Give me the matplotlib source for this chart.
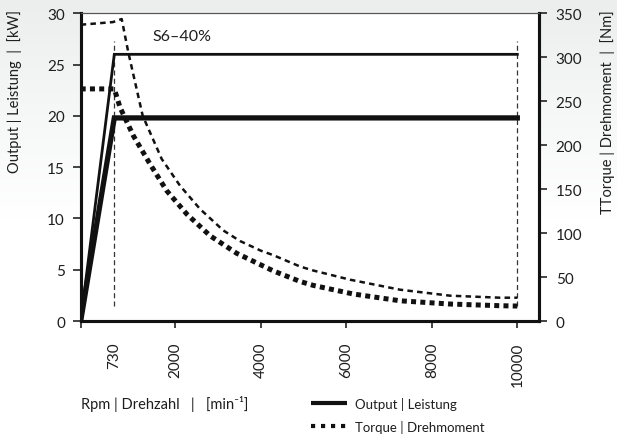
import numpy as np
import matplotlib
matplotlib.use('Agg')
import matplotlib.pyplot as plt
from matplotlib.lines import Line2D
from matplotlib.colors import LinearSegmentedColormap

plt.rcParams['font.family'] = ['Lato', 'DejaVu Sans']

# ---------------- data ----------------
rpm_output = [0, 730, 10000]
power_s6 = [0, 26.0, 26.0]
power_s1 = [0, 19.8, 19.8]

rpm_torque_s6 = [0, 700, 884, 1021, 1321, 1717, 2110, 2578, 3123, 3513, 4000, 4285,
                 4917, 5221, 6086, 7256, 8425, 9595, 10000]
torque_s6 = [337, 340, 343.5, 305.7, 233.5, 184.3, 153.9, 127.4, 103, 91, 80, 75,
             62, 57.5, 47, 35.6, 28.8, 26.5, 26.5]

rpm_torque_s1 = [0, 730, 849, 1126, 1473, 1821, 2267, 2812, 3436, 4292, 4917, 5228,
                 6163, 7256, 8425, 9595, 10000]
torque_s1 = [264, 264, 243, 210.8, 178.6, 148.2, 121.7, 97, 77, 57, 45, 40.5,
             30.7, 23, 19.3, 17.4, 17]

marker_rpm = [730, 10000]
marker_range = [1.5, 27.3]

x_ticks = [0, 2000, 4000, 6000, 8000, 10000]
x_ticklabels = ['', '2000', '4000', '6000', '8000', '10000']
x_extra_tick = [730]
x_extra_label = ['730']
y_left_ticks = [0, 5, 10, 15, 20, 25, 30]
y_right_ticks = [0, 50, 100, 150, 200, 250, 300, 350]

label_s6 = 'S6–40%'
legend_labels = ['Output | Leistung', 'Torque | Drehmoment']
xlabel = 'Rpm | Drehzahl   |   [min⁻¹]'
ylabel_left = 'Output | Leistung  |  [kW]'
ylabel_right = 'TTorque | Drehmoment  |  [Nm]'

# ---------------- figure ----------------
W, H = 617, 439
fig = plt.figure(figsize=(W / 100, H / 100), dpi=100)

# background gradient
bg = fig.add_axes([0, 0, 1, 1], zorder=-5)
cmap = LinearSegmentedColormap.from_list('bg', ['#ffffff', '#ffffff', '#eceeee'])
grad = np.linspace(1, 0, 256).reshape(-1, 1)
bg.imshow(grad, aspect='auto', extent=[0, 1, 0, 1], cmap=cmap)
bg.axis('off')

left, right, top, bottom = 80.7, 538.7, 14.3, 322.0
ax = fig.add_axes([left / W, 1 - bottom / H, (right - left) / W, (bottom - top) / H])
ax.set_facecolor('white')

# piecewise-linear x scale (matches the drawing's rpm axis)
kn_rpm = [0, 730, 2000, 12000]
kn_pos = [0, 33.6, 94.6, 94.6 + 10000 * 0.04275]
fwd = lambda x: np.interp(x, kn_rpm, kn_pos)
inv = lambda p: np.interp(p, kn_pos, kn_rpm)
ax.set_xscale('function', functions=(fwd, inv))
ax.set_xlim(0, 10500)
ax.set_ylim(0, 30)

ink = '#111111'
txt = '#1e1e1e'

ax.plot(rpm_output, power_s6, color=ink, lw=2.0, solid_joinstyle='miter', zorder=3)
ax.plot(rpm_output, power_s1, color=ink, lw=3.8, solid_joinstyle='miter', zorder=3)
for r in marker_rpm:
    ax.plot([r, r], marker_range, color='#333333', lw=0.9, linestyle=(0, (4, 2.6)), zorder=2)
ax.text(1530, 27.8, label_s6, fontsize=11.5, color=txt, ha='left', va='center')

ax2 = ax.twinx()
ax2.set_ylim(0, 350)
ax2.plot(rpm_torque_s6, torque_s6, color=ink, lw=1.8, linestyle=(0, (2.2, 1.7)), zorder=3)
ax2.plot(rpm_torque_s1, torque_s1, color=ink, lw=3.6, linestyle=(0, (1, 0.85)), zorder=3)

# ticks / spines
ax.set_xticks(x_ticks, x_ticklabels)
ax.set_xticks(x_extra_tick, x_extra_label, minor=True)
ax.tick_params(axis='x', which='major', direction='out', length=5, width=1.1,
               pad=10, labelsize=11, labelrotation=90, colors=ink, labelcolor=txt)
ax.tick_params(axis='x', which='minor', length=0, pad=15, labelsize=11,
               labelrotation=90, labelcolor=txt)
ax.set_yticks(y_left_ticks)
ax.tick_params(axis='y', direction='out', length=5.8, width=1.1, pad=5.5,
               labelsize=11, colors=ink, labelcolor=txt)
ax2.set_yticks(y_right_ticks)
ax2.tick_params(axis='y', direction='out', length=5.8, width=1.1, pad=6.5,
                labelsize=11, colors=ink, labelcolor=txt)

for a in (ax, ax2):
    a.spines['left'].set_linewidth(2.2)
    a.spines['bottom'].set_linewidth(2.2)
    a.spines['right'].set_linewidth(2.2)
    a.spines['top'].set_linewidth(0.8)
    a.spines['top'].set_color('#555555')
    for s in ('left', 'bottom', 'right'):
        a.spines[s].set_color(ink)

# axis labels as figure text
fig.text(81 / W, 1 - 404 / H, xlabel, ha='left', va='center', fontsize=10.5, color=txt)
fig.text(15 / W, 1 - 10 / H, ylabel_left, ha='center', va='top', rotation=90,
         fontsize=10.5, color=txt)
fig.text(608 / W, 1 - 10 / H, ylabel_right, ha='center', va='top', rotation=90,
         fontsize=10.5, color=txt)

handles = [Line2D([], [], color=ink, lw=3.0, solid_capstyle='butt'),
           Line2D([], [], color=ink, lw=3.0, linestyle=(0, (1, 1.4)))]
fig.legend(handles, legend_labels, loc='upper left',
           bbox_to_anchor=(311 / W, 1 - 398 / H), frameon=False, fontsize=9.5,
           handlelength=2.7, handletextpad=0.6, labelspacing=0.75,
           borderpad=0, borderaxespad=0, labelcolor=txt)

fig.savefig('out.png', dpi=100)
